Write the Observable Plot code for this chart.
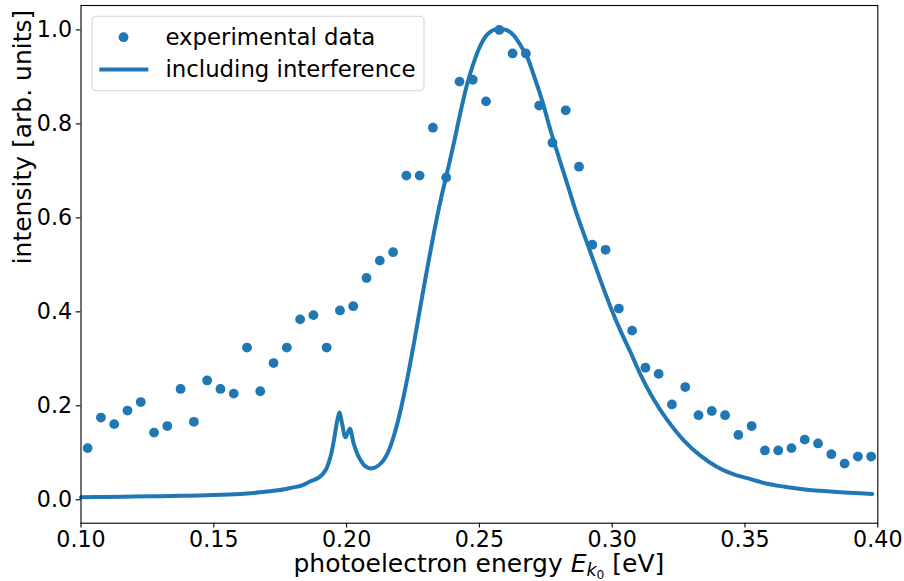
<!DOCTYPE html>
<html>
<head>
<meta charset="utf-8">
<script src="https://cdn.jsdelivr.net/npm/d3@7"></script>
<script src="https://cdn.jsdelivr.net/npm/@observablehq/plot@0.6"></script>
<style>
  html, body { margin: 0; padding: 0; background: white; }
  svg { display: block; }
</style>
</head>
<body>
<div id="chart"></div>
<script>
// ---- data ----
const seriesNames = ["experimental data", "including interference"];
const xLabel = "photoelectron energy ";
const yLabel = "intensity [arb. units]";
const xTicks = [0.10, 0.15, 0.20, 0.25, 0.30, 0.35, 0.40];
const yTicks = [0.0, 0.2, 0.4, 0.6, 0.8, 1.0];

// experimental data points
const expEnergy = [
  0.1025, 0.1075, 0.1125, 0.1175, 0.1225, 0.1275, 0.1325, 0.1375, 0.1425, 0.1475,
  0.1525, 0.1575, 0.1625, 0.1675, 0.1725, 0.1775, 0.1825, 0.1875, 0.1925, 0.1975,
  0.2025, 0.2075, 0.2125, 0.2175, 0.2225, 0.2275, 0.2325, 0.2375, 0.2425, 0.2475,
  0.2525, 0.2575, 0.2625, 0.2675, 0.2725, 0.2775, 0.2825, 0.2875, 0.2925, 0.2975,
  0.3025, 0.3075, 0.3125, 0.3175, 0.3225, 0.3275, 0.3325, 0.3375, 0.3425, 0.3475,
  0.3525, 0.3575, 0.3625, 0.3675, 0.3725, 0.3775, 0.3825, 0.3875, 0.3925, 0.3975
];
const expIntensity = [
  0.110, 0.175, 0.161, 0.190, 0.208, 0.143, 0.157, 0.236, 0.166, 0.254,
  0.236, 0.226, 0.324, 0.231, 0.291, 0.324, 0.384, 0.393, 0.324, 0.403,
  0.412, 0.472, 0.509, 0.527, 0.690, 0.690, 0.792, 0.686, 0.890, 0.894,
  0.848, 1.000, 0.950, 0.950, 0.839, 0.760, 0.829, 0.709, 0.543, 0.532,
  0.407, 0.360, 0.281, 0.268, 0.203, 0.240, 0.180, 0.189, 0.180, 0.138,
  0.157, 0.105, 0.105, 0.110, 0.128, 0.120, 0.097, 0.077, 0.092, 0.092
];

// model curve including interference
const modelEnergy = [
  0.1000, 0.1100, 0.1200, 0.1300, 0.1400, 0.1500, 0.1600, 0.1650, 0.1700, 0.1750,
  0.1800, 0.1830, 0.1860, 0.1895, 0.1920, 0.1939, 0.1952, 0.1965, 0.1973, 0.1983,
  0.1996, 0.2012, 0.2027, 0.2046, 0.2071, 0.2096, 0.2128, 0.2155, 0.2180, 0.2205,
  0.2230, 0.2255, 0.2280, 0.2305, 0.2330, 0.2355, 0.2380, 0.2405, 0.2430, 0.2454,
  0.2479, 0.2504, 0.2529, 0.2554, 0.2580, 0.2605, 0.2630, 0.2655, 0.2680, 0.2705,
  0.2736, 0.2768, 0.2799, 0.2831, 0.2862, 0.2893, 0.2925, 0.2956, 0.2994, 0.3031,
  0.3069, 0.3107, 0.3157, 0.3207, 0.3270, 0.3332, 0.3395, 0.3458, 0.3521, 0.3584,
  0.3646, 0.3709, 0.3834, 0.3979
];
const modelIntensity = [
  0.0055, 0.0060, 0.0068, 0.0077, 0.0088, 0.0102, 0.0125, 0.0145, 0.0175, 0.0210,
  0.0265, 0.0300, 0.0385, 0.0470, 0.0620, 0.0910, 0.1260, 0.1690, 0.1860, 0.1620,
  0.1330, 0.1510, 0.1190, 0.0910, 0.0710, 0.0670, 0.0770, 0.1000, 0.1400, 0.1950,
  0.2620, 0.3380, 0.4180, 0.4970, 0.5720, 0.6400, 0.7000, 0.7620, 0.8280, 0.8850,
  0.9310, 0.9670, 0.9900, 1.0000, 1.0020, 0.9990, 0.9880, 0.9670, 0.9420, 0.9030,
  0.8500, 0.7860, 0.7290, 0.6720, 0.6160, 0.5660, 0.5160, 0.4670, 0.4100, 0.3600,
  0.3140, 0.2660, 0.2130, 0.1700, 0.1260, 0.0940, 0.0700, 0.0540, 0.0440, 0.0340,
  0.0280, 0.0230, 0.0170, 0.0126
];

const color = "#1f77b4";
const points = expEnergy.map((e, i) => ({e, v: expIntensity[i]}));
const curve = modelEnergy.map((e, i) => ({e, v: modelIntensity[i]}));

const font = "DejaVu Sans";
const W = 904, H = 581;
const mL = 80.5, mR = 26.7, mT = 5, mB = 58.3;

const chart = Plot.plot({
  width: W, height: H,
  marginLeft: mL, marginRight: mR, marginTop: mT, marginBottom: mB,
  style: {fontFamily: font, fontSize: "22.2px", color: "black", background: "white", overflow: "visible"},
  x: {domain: [0.1, 0.4]},
  y: {domain: [-0.0498, 1.052]},
  marks: [
    Plot.dot(points, {x: "e", y: "v", r: 4.9, fill: color, stroke: "none"}),
    Plot.line(curve, {x: "e", y: "v", stroke: color, strokeWidth: 4, curve: "catmull-rom"}),
    Plot.frame({stroke: "black", strokeWidth: 1.1}),
    Plot.axisX({ticks: xTicks, tickFormat: d3.format(".2f"), tickSize: 4.86, tickPadding: 3.6,
                strokeWidth: 1.1, fontSize: 22.2, label: null}),
    Plot.axisY({ticks: yTicks, tickFormat: d3.format(".1f"), tickSize: 4.86, tickPadding: 4,
                strokeWidth: 1.1, fontSize: 22.2, label: null}),
    Plot.text([yLabel], {frameAnchor: "left", rotate: -90, dx: -58, fontSize: 25,
                text: d => d, fill: "black"})
  ]
});

const svg = d3.select(chart);

// x-axis label with italic E and nested subscripts
const xl = svg.append("text")
  .attr("x", (mL + (W - mR)) / 2)
  .attr("y", 572)
  .attr("text-anchor", "middle")
  .attr("font-family", font)
  .attr("font-size", 25)
  .attr("fill", "black");
xl.append("tspan").text(xLabel);
xl.append("tspan").attr("font-style", "italic").text("E");
xl.append("tspan").attr("font-style", "italic").attr("font-size", 17.5).attr("dy", 4).text("k");
xl.append("tspan").attr("font-size", 12.3).attr("dy", 2.5).text("0");
xl.append("tspan").attr("dy", -6.5).text(" [eV]");

// legend
const lg = svg.append("g").attr("font-family", font).attr("font-size", 22.8)
  .attr("text-anchor", "start");
lg.append("rect")
  .attr("x", 92).attr("y", 16.2).attr("width", 332).attr("height", 74.5)
  .attr("rx", 4).attr("fill", "white").attr("fill-opacity", 0.8)
  .attr("stroke", "#cccccc").attr("stroke-opacity", 0.8).attr("stroke-width", 1.1);
lg.append("circle").attr("cx", 123.5).attr("cy", 37.2).attr("r", 4.9).attr("fill", color);
lg.append("line").attr("x1", 99.3).attr("x2", 148.3).attr("y1", 69.4).attr("y2", 69.4)
  .attr("stroke", color).attr("stroke-width", 4);
lg.append("text").attr("x", 165.5).attr("y", 44.8).attr("text-anchor", "start")
  .attr("fill", "black").text(seriesNames[0]);
lg.append("text").attr("x", 165.5).attr("y", 77).attr("text-anchor", "start")
  .attr("fill", "black").text(seriesNames[1]);

document.getElementById("chart").appendChild(chart);
</script>
</body>
</html>
